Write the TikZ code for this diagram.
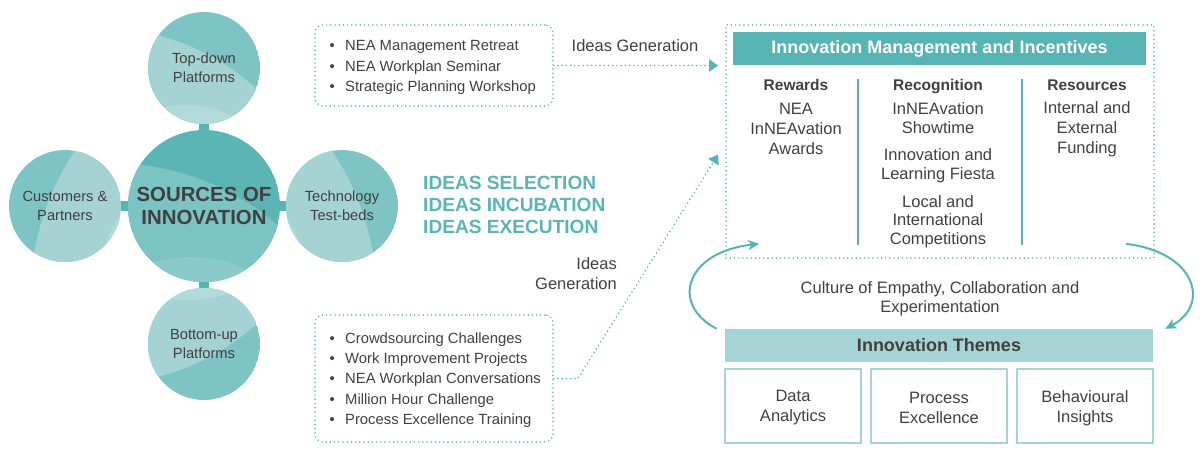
\documentclass[tikz,border=0pt]{standalone}
\usepackage{fontspec}
\setmainfont{Liberation Sans}
\usetikzlibrary{arrows.meta,calc,backgrounds}
\definecolor{hdr}{HTML}{56B4B4}
\definecolor{tealtx}{HTML}{5AB6B6}
\definecolor{light}{HTML}{A6D4D4}
\definecolor{txtc}{HTML}{404040}
\definecolor{cdark}{HTML}{7EC4C4}
\definecolor{clight}{HTML}{A5D3D3}
\definecolor{clighter}{HTML}{B3DADA}
\definecolor{bdark}{HTML}{5CB5B5}
\definecolor{bmid}{HTML}{7CC3C3}
\definecolor{blight}{HTML}{8BCACA}
\newcommand\myfs[2]{\fontsize{#1}{#2}\selectfont}
\begin{document}
\begin{tikzpicture}[x=1pt,y=-1pt,
  txt/.style={text=txtc, inner sep=0pt, align=center},
  body/.style={txt, font=\myfs{16.5}{20}},
  colhead/.style={txt, font=\myfs{15.5}{19}\bfseries, anchor=base},
  ctext/.style={txt, font=\myfs{14.7}{19}},
  circ/.style={circle, inner sep=0pt, minimum size=112pt},
  list/.style={txt, align=left, font=\myfs{14.8}{20.3}},
  dotline/.style={draw=hdr, line width=1.7pt, line cap=round, dash pattern=on 0pt off 4.2pt},
  dotbox/.style={dotline, rounded corners=8pt, inner sep=0pt},
  sep/.style={draw=hdr, line width=2pt},
  themebox/.style={draw=light, line width=2pt, minimum width=136pt, minimum height=74pt, inner sep=0pt, body},
  cyc/.style={draw=hdr, line width=2pt, -{Stealth[length=11pt,width=10pt,inset=3pt]}},
  conn/.style={draw=hdr, line width=10pt, shorten <=-3pt, shorten >=-3pt}
]
\useasboundingbox (0,0) rectangle (1200,453);

% ---------- circles ----------
\node[circ, minimum size=152pt] (src) at (204,206) {};
\node[circ] (top) at (204,68) {};
\node[circ] (bot) at (204,344) {};
\node[circ] (lft) at (65,206) {};
\node[circ] (rgt) at (342,206) {};

\begin{pgfonlayer}{background}
\draw[conn] (top) -- (src);
\draw[conn] (bot) -- (src);
\draw[conn] (lft) -- (src);
\draw[conn] (rgt) -- (src);
% big circle
\begin{scope}
\clip (204,206) circle[radius=76];
\fill[bdark] (204,206) circle[radius=76];
\fill[bmid] (110,420) circle[radius=257];
\fill[blight] (190,392) circle[radius=135];
\end{scope}
% top circle
\begin{scope}
\clip (204,68) circle[radius=56];
\fill[cdark] (204,68) circle[radius=56];
\fill[clight] (100,260) circle[radius=232];
\fill[clighter] (185,205) circle[radius=100];
\end{scope}
% left circle
\begin{scope}
\clip (65,206) circle[radius=56];
\fill[cdark] (65,206) circle[radius=56];
\fill[clight] (300,300) circle[radius=270];
\fill[clighter] (215,280) circle[radius=115];
\end{scope}
% right circle
\begin{scope}
\clip (342,206) circle[radius=56];
\fill[cdark] (342,206) circle[radius=56];
\fill[clight] (107,300) circle[radius=270];
\fill[clighter] (190,280) circle[radius=115];
\end{scope}
% bottom circle
\begin{scope}
\clip (204,344) circle[radius=56];
\fill[cdark] (204,344) circle[radius=56];
\fill[clight] (100,150) circle[radius=234];
\fill[clighter] (190,190) circle[radius=110];
\end{scope}
\end{pgfonlayer}

\node[ctext] at (top.center) {Top-down\\Platforms};
\node[ctext] at (bot.center) {Bottom-up\\Platforms};
\node[ctext] at (lft.center) {Customers \&\\Partners};
\node[ctext] at (rgt.center) {Technology\\Test-beds};
\node[txt, font=\myfs{20.4}{23}\bfseries] at (src.center) {SOURCES OF\\INNOVATION};

% ---------- lists ----------
\node[dotbox, minimum width=238pt, minimum height=81pt] (topbox) at (434,65.5) {};
\node[list, anchor=west] (toplist) at (329.5,67.5) {%
\makebox[15.5pt][l]{\textbullet}NEA Management Retreat\\
\makebox[15.5pt][l]{\textbullet}NEA Workplan Seminar\\
\makebox[15.5pt][l]{\textbullet}Strategic Planning Workshop};

\node[dotbox, minimum width=238pt, minimum height=127pt] (botbox) at (434,378.5) {};
\node[list, anchor=west] (botlist) at (329.5,380) {%
\makebox[15.5pt][l]{\textbullet}Crowdsourcing Challenges\\
\makebox[15.5pt][l]{\textbullet}Work Improvement Projects\\
\makebox[15.5pt][l]{\textbullet}NEA Workplan Conversations\\
\makebox[15.5pt][l]{\textbullet}Million Hour Challenge\\
\makebox[15.5pt][l]{\textbullet}Process Excellence Training};

\node[body] (ig1) at (635,46) {Ideas Generation};
\node[body, anchor=east, align=right] (ig2) at (617,274) {Ideas\\Generation};

\node[txt, anchor=west, align=left, text=tealtx, font=\myfs{19.1}{22}\bfseries] (ideas) at (423,205) {IDEAS SELECTION\\IDEAS INCUBATION\\IDEAS EXECUTION};

% ---------- right panel ----------
\node[dotline, inner sep=0pt, minimum width=428pt, minimum height=233pt] (imi) at (940,141.5) {};
\node[fill=hdr, text=white, inner sep=0pt, minimum width=413pt, minimum height=33pt, font=\myfs{18}{20}\bfseries] (hdrbar) at (939.5,48.5) {Innovation Management and Incentives};

\node[colhead] (rew) at (796,90.5) {Rewards};
\node[colhead] (rec) at (938,90.5) {Recognition};
\node[colhead] (res) at (1087,90.5) {Resources};

\node[body] (rew1) at (796,129) {NEA\\InNEAvation\\Awards};
\node[body, font=\myfs{16.5}{19}] (rec1) at (938,118.5) {InNEAvation\\Showtime};
\node[body, font=\myfs{16.5}{19}] (rec2) at (938,165.5) {Innovation and\\Learning Fiesta};
\node[body, font=\myfs{16.5}{18.7}] (rec3) at (938,221.5) {Local and\\International\\Competitions};
\node[body] (res1) at (1087,129.5) {Internal and\\External\\Funding};

\draw[sep] (858,79) -- (858,245);
\draw[sep] (1022,79) -- (1022,245);

% arrows into panel
\draw[dotline, -{Triangle[length=9pt,width=12pt]}, shorten >=7pt] (topbox.east) -- (topbox.east -| imi.west);
\coordinate (bend) at ($(botbox.east)+(24,0)$);
\draw[dotline, -{Triangle[length=9pt,width=12pt]}] (botbox.east) -- (bend) -- ($(imi.west)+(-7,13)$);

% culture cycle
\node[body, font=\myfs{16.5}{19.5}] (culture) at (940,298.5) {Culture of Empathy, Collaboration and\\Experimentation};
\node[fill=light, inner sep=0pt, minimum width=428pt, minimum height=33pt, text=txtc, font=\myfs{18}{20}\bfseries] (themes) at (939,345.5) {Innovation Themes};

\coordinate (l0) at ($(themes.north west)+(-8,0)$);
\coordinate (l1) at ($(imi.south west)+(34,-15)$);
\coordinate (r0) at ($(imi.south east)+(-29,-15)$);
\coordinate (r1) at ($(themes.north east)+(12,0)$);
\draw[cyc] (l0) .. controls (670,305) and (685,252) .. (l1);
\draw[cyc] (r0) .. controls (1196,252) and (1211,305) .. (r1);

\node[themebox] (t1) at (793,406) {};
\node[themebox] (t2) at (939,406) {};
\node[themebox] (t3) at (1085,406) {};
\node[body] at (793,408) {Data\\Analytics};
\node[body] at (939,408) {Process\\Excellence};
\node[body] at (1085,408) {Behavioural\\Insights};
\end{tikzpicture}
\end{document}
